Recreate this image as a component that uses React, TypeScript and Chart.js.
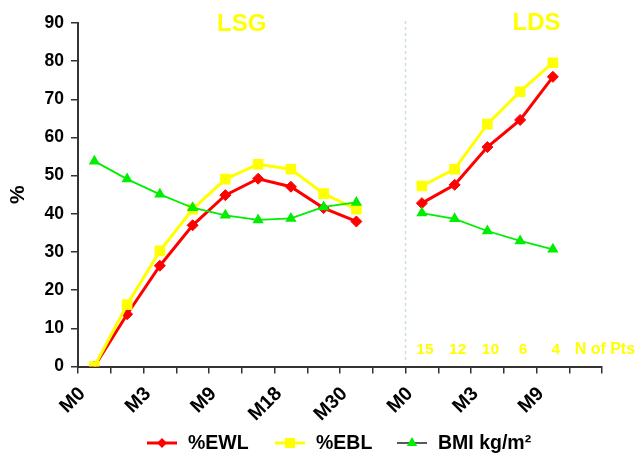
import React, { useEffect, useRef } from "react";
import { Chart, registerables } from "chart.js";

Chart.register(...registerables);

// Category axis: 9 LSG time points, a gap, 5 LDS time points, a trailing gap
const categoryLabels = [
  "M0", "", "M3", "", "M9", "", "M18", "", "M30", "",
  "M0", "", "M3", "", "M9", "",
];

// LSG series (9 points)
const lsgEWL = [0, 13.7, 26.4, 37.0, 44.9, 49.2, 47.1, 41.5, 38.0];
const lsgEBL = [0, 16.2, 30.3, 41.2, 49.1, 53.0, 51.7, 45.3, 41.2];
const lsgBMI = [53.8, 49.1, 45.1, 41.6, 39.6, 38.4, 38.8, 41.8, 43.0];

// LDS series (5 points)
const ldsEWL = [42.8, 47.6, 57.5, 64.6, 75.9];
const ldsEBL = [47.3, 51.7, 63.5, 72.0, 79.6];
const ldsBMI = [40.2, 38.7, 35.5, 32.9, 30.7];

// Number of patients per LDS time point
const ldsNPts = ["15", "12", "10", "6", "4"];

const yTicks = [0, 10, 20, 30, 40, 50, 60, 70, 80, 90];

const seriesNames = ["%EWL", "%EBL", "BMI kg/m²"];

const FONT = 'Arial, "Liberation Sans", Helvetica, sans-serif';
const RED = "#ff0000";
const YELLOW = "#ffff00";
const GREEN = "#00ee00";
const AXIS = "#333333";

function joinSeries(a: number[], b: number[]): (number | null)[] {
  return [...a, null, ...b, null];
}

function drawMarker(ctx: CanvasRenderingContext2D, kind: string, x: number, y: number, color: string) {
  ctx.save();
  ctx.fillStyle = color;
  ctx.strokeStyle = color;
  ctx.beginPath();
  if (kind === "diamond") {
    const r = 5;
    ctx.moveTo(x, y - r);
    ctx.lineTo(x + r, y);
    ctx.lineTo(x, y + r);
    ctx.lineTo(x - r, y);
    ctx.closePath();
  } else if (kind === "square") {
    const s = 5;
    ctx.rect(x - s, y - s, 2 * s, 2 * s);
  } else {
    const r = 6;
    ctx.moveTo(x, y - r);
    ctx.lineTo(x + r * 0.866, y + r * 0.5);
    ctx.lineTo(x - r * 0.866, y + r * 0.5);
    ctx.closePath();
  }
  ctx.fill();
  ctx.restore();
}

const annotationsPlugin = {
  id: "annotations",
  afterDraw(chart: any) {
    const ctx: CanvasRenderingContext2D = chart.ctx;
    const xs = chart.scales.x;
    const area = chart.chartArea;
    ctx.save();

    // divider between LSG and LDS
    const divX = xs.getPixelForValue(9.5);
    ctx.strokeStyle = "#c9dde3";
    ctx.lineWidth = 1.5;
    ctx.setLineDash([3, 3]);
    ctx.beginPath();
    ctx.moveTo(divX, area.top - 2);
    ctx.lineTo(divX, area.bottom - 3);
    ctx.stroke();
    ctx.setLineDash([]);

    // group titles
    ctx.fillStyle = YELLOW;
    ctx.textAlign = "center";
    ctx.textBaseline = "middle";
    ctx.font = `bold 24px ${FONT}`;
    ctx.fillText("LSG", (xs.getPixelForValue(4) + xs.getPixelForValue(5)) / 2, 24);
    ctx.fillText("LDS", (xs.getPixelForValue(13) + xs.getPixelForValue(14)) / 2, 23);

    // N of patients
    ctx.font = `bold 15.5px ${FONT}`;
    const nY = area.bottom - 17;
    ldsNPts.forEach((t, i) => {
      ctx.fillText(t, xs.getPixelForValue(10 + i) + 3, nY);
    });
    ctx.textAlign = "left";
    ctx.font = `bold 16px ${FONT}`;
    ctx.fillText("N of Pts", xs.getPixelForValue(15) - 11, nY);

    // legend
    const ly = 443;
    const items = [
      { name: seriesNames[0], x: 147, line: RED, lw: 3, marker: "diamond", mc: RED },
      { name: seriesNames[1], x: 275, line: YELLOW, lw: 3, marker: "square", mc: YELLOW },
      { name: seriesNames[2], x: 397, line: "#222222", lw: 1.5, marker: "triangle", mc: GREEN },
    ];
    ctx.font = `bold 19.5px ${FONT}`;
    ctx.textBaseline = "middle";
    items.forEach((it) => {
      ctx.strokeStyle = it.line;
      ctx.lineWidth = it.lw;
      ctx.beginPath();
      ctx.moveTo(it.x, ly);
      ctx.lineTo(it.x + 30, ly);
      ctx.stroke();
      drawMarker(ctx, it.marker, it.x + 15, ly, it.mc);
      ctx.fillStyle = "#000000";
      ctx.textAlign = "left";
      ctx.fillText(it.name, it.x + 41, ly + 1);
    });
    ctx.restore();
  },
};

export default function App() {
  const canvasRef = useRef<HTMLCanvasElement | null>(null);

  useEffect(() => {
    if (!canvasRef.current) return;
    const chart = new Chart(canvasRef.current, {
      type: "line",
      data: {
        labels: categoryLabels,
        datasets: [
          {
            label: seriesNames[2],
            data: joinSeries(lsgBMI, ldsBMI),
            borderColor: GREEN,
            backgroundColor: GREEN,
            borderWidth: 1.8,
            pointStyle: "triangle",
            pointRadius: 6.5,
            pointBorderWidth: 0,
            spanGaps: false,
          },
          {
            label: seriesNames[1],
            data: joinSeries(lsgEBL, ldsEBL),
            borderColor: YELLOW,
            backgroundColor: YELLOW,
            borderWidth: 3,
            pointStyle: "rect",
            pointRadius: 7.5,
            pointBorderWidth: 0,
            spanGaps: false,
          },
          {
            label: seriesNames[0],
            data: joinSeries(lsgEWL, ldsEWL),
            borderColor: RED,
            backgroundColor: RED,
            borderWidth: 3,
            pointStyle: "rectRot",
            pointRadius: 5.5,
            pointBorderWidth: 1,
            spanGaps: false,
          },
        ],
      },
      options: {
        animation: false,
        responsive: false,
        maintainAspectRatio: false,
        layout: { padding: { top: 23, right: 34, left: 0, bottom: 0 } },
        plugins: {
          legend: { display: false },
          tooltip: { enabled: false },
        },
        scales: {
          x: {
            type: "category",
            offset: true,
            grid: {
              offset: true,
              drawOnChartArea: false,
              drawTicks: true,
              tickLength: 7,
              color: AXIS,
              lineWidth: 1.5,
            },
            border: { display: true, color: AXIS, width: 2 },
            ticks: {
              autoSkip: false,
              minRotation: 45,
              maxRotation: 45,
              color: "#000000",
              font: { family: FONT, size: 19.5, weight: "bold" },
              padding: 9,
              labelOffset: -12,
            },
            afterFit: (scale: any) => {
              scale.height = 86.5;
            },
          },
          y: {
            min: 0,
            max: 90,
            afterBuildTicks: (scale: any) => {
              scale.ticks = yTicks.map((v) => ({ value: v }));
            },
            grid: {
              drawOnChartArea: false,
              drawTicks: true,
              tickLength: 7,
              color: AXIS,
              lineWidth: 1.5,
            },
            border: { display: true, color: AXIS, width: 2 },
            ticks: {
              color: "#000000",
              font: { family: FONT, size: 17.5, weight: "bold" },
              padding: 7,
            },
            title: {
              display: true,
              text: "%",
              color: "#000000",
              font: { family: FONT, size: 21, weight: "bold" },
              padding: { top: 6, bottom: 0 },
            },
            afterFit: (scale: any) => {
              scale.width = 78;
            },
          },
        },
      },
      plugins: [annotationsPlugin],
    });
    return () => chart.destroy();
  }, []);

  return (
    <div style={{ position: "absolute", left: 0, top: 0, width: 636, height: 453, background: "#ffffff" }}>
      <canvas ref={canvasRef} width={636} height={453} style={{ display: "block" }} />
    </div>
  );
}
